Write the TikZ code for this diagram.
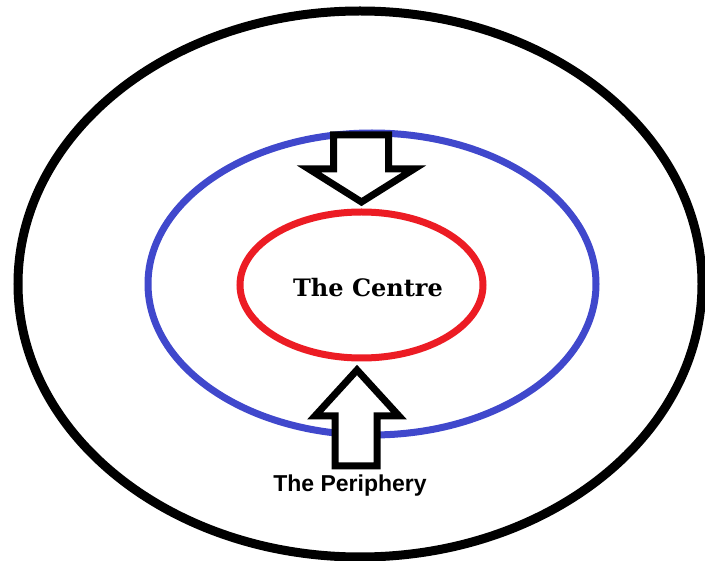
\documentclass[tikz,border=0pt]{standalone}
\usepackage{fontspec}
\setmainfont{Liberation Sans}
\newfontfamily\centrefont{DejaVu Serif}
\definecolor{ringblue}{RGB}{64,72,204}
\definecolor{ringred}{RGB}{236,28,36}
\tikzset{
  ring/.style={line width=#1},
  blockarrow/.style={draw=black, fill=white, line width=7pt, line join=miter, miter limit=4},
  lbl/.style={anchor=base, inner sep=0pt}
}
\begin{document}
\begin{tikzpicture}[x=1pt,y=-1pt]
\fill[white] (0,0) rectangle (705,561);
\useasboundingbox (0,0) rectangle (705,561);
\clip (0,0) rectangle (705,561);
% outer black ellipse
\draw[ring=9pt, black] (360,284) ellipse [x radius=342, y radius=273];
% blue ellipse
\draw[ring=7pt, ringblue] (372,284) ellipse [x radius=224, y radius=151];
% red ellipse
\draw[ring=7pt, ringred] (361.5,285) ellipse [x radius=121.5, y radius=73];
% top arrow pointing down
\draw[blockarrow] (333.5,135) -- (388.5,135) -- (388.5,169) -- (414,169) -- (361.5,202) -- (309,169) -- (333.5,169) -- cycle;
% bottom arrow pointing up
\draw[blockarrow] (335,466) -- (377,466) -- (377,416) -- (399,416) -- (357,370) -- (315,416) -- (335,416) -- cycle;
% labels
\node[lbl] (centre) at (368,297) {\centrefont\bfseries\fontsize{24}{28}\selectfont The Centre};
\node[lbl] (periphery) at (350,492) {\bfseries\fontsize{23}{27}\selectfont The Periphery};
\end{tikzpicture}
\end{document}
